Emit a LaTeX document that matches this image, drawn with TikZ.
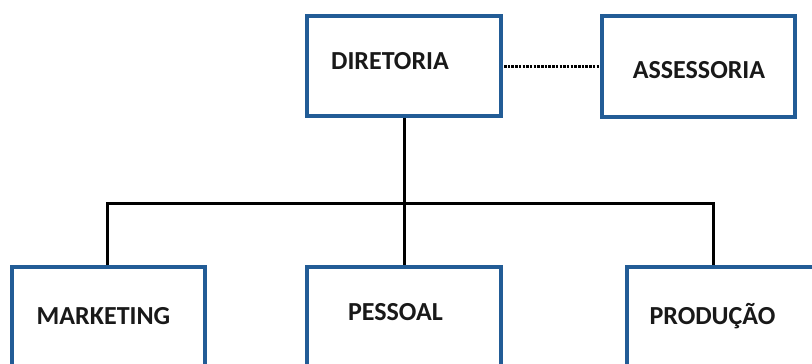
\documentclass[tikz,border=0pt]{standalone}
\usepackage{fontspec}
\setmainfont{Carlito}
\definecolor{boxblue}{HTML}{225C96}
\begin{document}
\begin{tikzpicture}[x=1pt,y=-1pt,
  box/.style={draw=boxblue, line width=4pt, fill=white, rectangle, inner sep=0pt, anchor=north west},
  lbl/.style={font=\fontsize{26}{30}\selectfont\bfseries, text=black!90, inner sep=0pt},
  conn/.style={draw=black, line width=3pt},
  dotconn/.style={draw=black, line width=3pt, dash pattern=on 2.5pt off 1.2pt}]
\useasboundingbox (0,0) rectangle (812,364);
\clip (0,0) rectangle (812,364);
\fill[white] (0,0) rectangle (812,364);
% boxes
\node[box, minimum width=194pt, minimum height=100pt] (dir) at (305,14) {};
\node[box, minimum width=193pt, minimum height=101pt] (ass) at (600,14) {};
\node[box, minimum width=193pt, minimum height=104pt] (mkt) at (10,265) {};
\node[box, minimum width=194pt, minimum height=104pt] (pes) at (305,265) {};
\node[box, minimum width=195pt, minimum height=104pt] (pro) at (625,265) {};
% connectors
\coordinate (hl) at (107,203);
\coordinate (hr) at (713,203);
\draw[conn] (dir.south) -- (pes.north);
\draw[conn] (hl |- mkt.north) -- (hl) -- (hr) -- (hr |- pro.north);
\draw[dotconn] ([xshift=1pt]dir.east) -- ([xshift=-1pt]ass.west |- dir.east);
% labels
\node[lbl] (tdir) at (390,61) {DIRETORIA};
\node[lbl] (tass) at (699,70) {ASSESSORIA};
\node[lbl] (tmkt) at (103.5,316) {MARKETING};
\node[lbl] (tpes) at (395.5,312) {PESSOAL};
\node[lbl] (tpro) at (712.5,316) {PRODUÇÃO};
\end{tikzpicture}
\end{document}
